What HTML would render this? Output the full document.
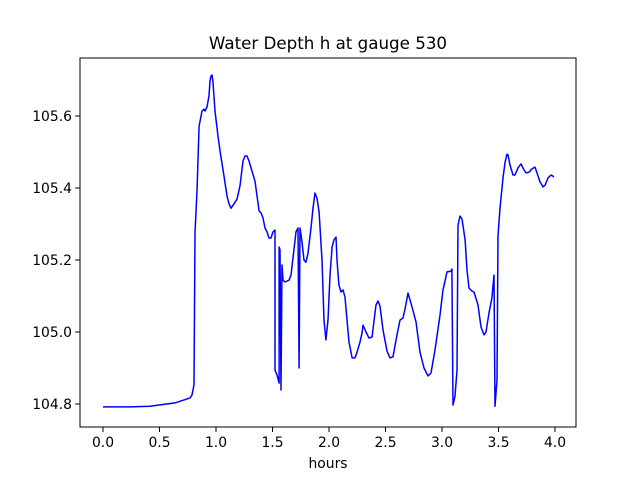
<!DOCTYPE html>
<html><head><meta charset="utf-8"><style>
body{margin:0;background:#fff}
svg{display:block;font-family:"DejaVu Sans","Liberation Sans",sans-serif}
</style></head><body>
<svg width="640" height="480">
<text x="328" y="49" font-size="16.7" text-anchor="middle">Water Depth h at gauge 530</text>
<g id="plot"></g>
<g id="xt"></g>
<g id="yt"></g>
<rect x="80" y="58" width="496" height="369" fill="none" stroke="#000" stroke-width="1"/>
<text x="328" y="468" font-size="13.9" text-anchor="middle">hours</text>
</svg>
<script>
const hours=[0,0.239,0.416,0.637,0.770,0.788,0.805,0.814,0.832,0.850,0.876,0.894,0.903,0.920,0.938,0.947,0.956,0.965,0.973,0.991,1.018,1.035,1.071,1.097,1.115,1.133,1.159,1.186,1.212,1.239,1.257,1.274,1.292,1.319,1.345,1.363,1.381,1.398,1.416,1.434,1.451,1.469,1.487,1.504,1.522,1.522,1.540,1.558,1.558,1.566,1.575,1.584,1.593,1.611,1.646,1.664,1.681,1.708,1.726,1.735,1.743,1.761,1.779,1.796,1.814,1.841,1.858,1.876,1.894,1.912,1.938,1.956,1.973,1.991,2.009,2.027,2.044,2.062,2.071,2.088,2.106,2.124,2.142,2.159,2.177,2.204,2.230,2.248,2.274,2.292,2.301,2.327,2.354,2.381,2.398,2.416,2.434,2.451,2.478,2.513,2.540,2.566,2.602,2.628,2.655,2.673,2.699,2.735,2.770,2.805,2.841,2.876,2.903,2.938,2.982,3.009,3.044,3.080,3.088,3.097,3.115,3.133,3.142,3.159,3.177,3.204,3.221,3.239,3.265,3.283,3.319,3.345,3.372,3.389,3.416,3.442,3.460,3.469,3.487,3.496,3.513,3.540,3.558,3.575,3.584,3.602,3.628,3.646,3.673,3.699,3.726,3.743,3.770,3.796,3.823,3.841,3.867,3.894,3.912,3.938,3.965,3.991];
const depth=[104.792,104.792,104.794,104.803,104.817,104.825,104.853,105.275,105.392,105.572,105.614,105.619,105.614,105.625,105.656,105.697,105.711,105.714,105.697,105.614,105.544,105.503,105.433,105.378,105.356,105.344,105.356,105.369,105.406,105.475,105.489,105.489,105.475,105.447,105.419,105.378,105.336,105.331,105.317,105.289,105.278,105.261,105.261,105.278,105.283,104.894,104.881,104.858,105.236,105.228,104.839,105.186,105.144,105.139,105.144,105.158,105.206,105.278,105.289,104.900,105.289,105.250,105.200,105.194,105.219,105.289,105.344,105.386,105.372,105.333,105.200,105.033,104.978,105.033,105.158,105.236,105.256,105.264,105.200,105.131,105.111,105.117,105.097,105.033,104.972,104.928,104.928,104.944,104.972,104.997,105.019,105.000,104.983,104.986,105.031,105.075,105.086,105.072,105.006,104.947,104.928,104.931,104.992,105.033,105.039,105.064,105.108,105.069,105.028,104.944,104.900,104.878,104.886,104.950,105.047,105.117,105.167,105.169,105.175,104.797,104.822,104.894,105.297,105.322,105.314,105.256,105.172,105.122,105.114,105.111,105.075,105.014,104.992,105.000,105.053,105.094,105.158,104.794,104.867,105.267,105.344,105.428,105.472,105.494,105.492,105.464,105.436,105.436,105.456,105.467,105.450,105.442,105.444,105.453,105.458,105.442,105.417,105.403,105.408,105.428,105.436,105.431];
const xTicks=[0,0.5,1,1.5,2,2.5,3,3.5,4];
const xLabels=["0.0","0.5","1.0","1.5","2.0","2.5","3.0","3.5","4.0"];
const yTicks=[104.8,105.0,105.2,105.4,105.6];
const yLabels=["104.8","105.0","105.2","105.4","105.6"];
const NS="http://www.w3.org/2000/svg";
const sx=v=>103+v*113;
const sy=v=>404-(v-104.8)*360;
function mk(tag,attrs,parent){const e=document.createElementNS(NS,tag);for(const k in attrs)e.setAttribute(k,attrs[k]);parent.appendChild(e);return e;}
const plot=document.getElementById('plot');
const line=mk('polyline',{points:hours.map((h,i)=>sx(h).toFixed(1)+','+sy(depth[i]).toFixed(1)).join(' '),fill:'none',stroke:'#0000ff','stroke-width':'1.5','stroke-linejoin':'round'},plot);


const xt=document.getElementById('xt');
xTicks.forEach((t,i)=>{
  const tk=mk('line',{x1:sx(t),x2:sx(t),y1:427,y2:432,stroke:'#000'},xt);
  
  
  const lb=mk('text',{x:sx(t),y:447,'font-size':'13.9','text-anchor':'middle'},xt);
  lb.textContent=xLabels[i];
  
  
});
const yt=document.getElementById('yt');
yTicks.forEach((t,i)=>{
  const tk=mk('line',{x1:75,x2:80,y1:sy(t),y2:sy(t),stroke:'#000'},yt);
  
  
  const lb=mk('text',{x:72,y:sy(t)+5,'font-size':'13.9','text-anchor':'end'},yt);
  lb.textContent=yLabels[i];
  
  
});
</script>
</body></html>
